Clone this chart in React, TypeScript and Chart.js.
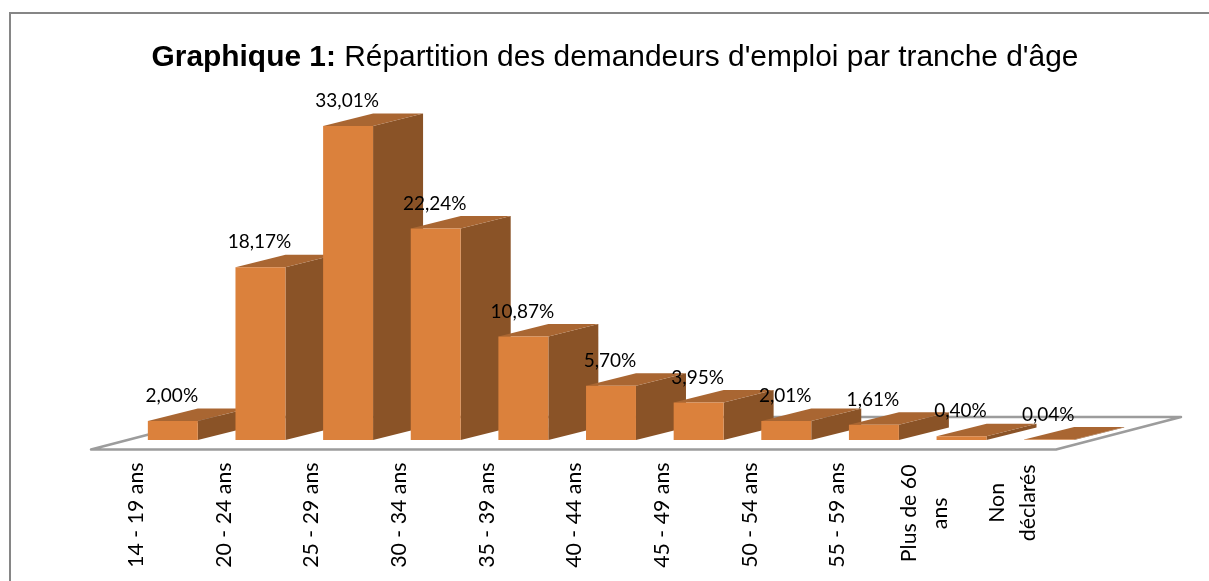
import React, { useEffect, useRef } from "react";
import { Chart, registerables } from "chart.js";

Chart.register(...registerables);

const categories: (string | string[])[] = [
  "14 - 19 ans", "20 - 24 ans", "25 - 29 ans", "30 - 34 ans", "35 - 39 ans", "40 - 44 ans",
  "45 - 49 ans", "50 - 54 ans", "55 - 59 ans", ["Plus de 60", "ans"], ["Non", "déclarés"],
];
const shares = [2.0, 18.17, 33.01, 22.24, 10.87, 5.7, 3.95, 2.01, 1.61, 0.4, 0.04];

const FRONT = "#DB813C";
const SIDE = "#8A5327";
const TOP = "#A96632";
const DX = 50;
const DY = -12.5;
const TICK_SIZE = 21.3;
const TICK_LINE = 1.45;
const TICK_FONT = TICK_SIZE + "px Lato";
const LABEL_FONT = "19px Lato";

const poly = (ctx: CanvasRenderingContext2D, pts: number[][], fill: string) => {
  ctx.beginPath();
  pts.forEach(([x, y], i) => (i ? ctx.lineTo(x, y) : ctx.moveTo(x, y)));
  ctx.closePath();
  ctx.fillStyle = fill;
  ctx.fill();
};

const floorAndDepth = {
  id: "floorAndDepth",
  beforeDraw(chart: any) {
    // centre the lines of the rotated tick labels on one another and on their tick
    const scale = chart.scales.x;
    const ctx = chart.ctx;
    const items = scale.getLabelItems(chart.chartArea);
    ctx.save();
    ctx.font = TICK_FONT;
    items.forEach((it: any) => {
      if (it.__centred) return;
      const lines = Array.isArray(it.label) ? it.label : [it.label];
      const w = Math.max(...lines.map((l: string) => ctx.measureText(l).width));
      const shift = ((lines.length - 1) * TICK_SIZE * TICK_LINE) / 2;
      it.options.textAlign = "center";
      it.options.translation = [
        it.options.translation[0] - shift,
        it.options.translation[1] + w / 2 + (lines.length > 1 ? 2 : 0),
      ];
      it.__centred = true;
    });
    ctx.restore();
  },
  beforeDatasetsDraw(chart: any) {
    const ctx = chart.ctx;
    const base = chart.scales.y.getPixelForValue(0);
    ctx.save();
    ctx.strokeStyle = "#9C9C9C";
    ctx.lineWidth = 2.5;
    ctx.lineJoin = "round";
    ctx.beginPath();
    ctx.moveTo(216, base - 23);
    ctx.lineTo(1181, base - 23);
    ctx.lineTo(1056, base + 9.5);
    ctx.lineTo(91, base + 9.5);
    ctx.closePath();
    ctx.stroke();
    chart.getDatasetMeta(0).data.forEach((bar: any) => {
      const { x, y, base: b, width } = bar.getProps(["x", "y", "base", "width"], true);
      const l = x - width / 2;
      const r = x + width / 2;
      poly(ctx, [[r, y], [r + DX, y + DY], [r + DX, b + DY], [r, b]], SIDE);
      poly(ctx, [[l, y], [l + DX, y + DY], [r + DX, y + DY], [r, y]], TOP);
    });
    ctx.restore();
  },
  afterDatasetsDraw(chart: any) {
    const ctx = chart.ctx;
    ctx.save();
    ctx.font = LABEL_FONT;
    ctx.fillStyle = "#000";
    ctx.textAlign = "center";
    ctx.textBaseline = "middle";
    chart.getDatasetMeta(0).data.forEach((bar: any, i: number) => {
      const { x, y } = bar.getProps(["x", "y"], true);
      ctx.fillText(shares[i].toFixed(2).replace(".", ",") + "%", x - 1, y - 25);
    });
    ctx.restore();
  },
};

export default function App() {
  const ref = useRef<HTMLCanvasElement>(null);
  useEffect(() => {
    const chart = new Chart(ref.current!, {
      type: "bar",
      data: {
        labels: categories as any,
        datasets: [{
          data: shares,
          backgroundColor: FRONT,
          borderWidth: 0,
          categoryPercentage: 1,
          barPercentage: 0.57,
        }],
      },
      options: {
        animation: false,
        responsive: false,
        layout: { padding: { left: 129, right: 116, top: 107, bottom: 0 } },
        plugins: { legend: { display: false }, tooltip: { enabled: false }, title: { display: false } },
        scales: {
          y: { display: false, min: 0, max: 35 },
          x: {
            afterFit: (s: any) => { s.height = 141; },
            grid: { display: false, drawTicks: false },
            border: { display: false },
            ticks: {
              autoSkip: false,
              minRotation: 90,
              maxRotation: 90,
              padding: 22.5,
              labelOffset: -36.5,
              color: "#000",
              font: { family: "Lato", size: TICK_SIZE, lineHeight: TICK_LINE },
            },
          },
        },
      },
      plugins: [floorAndDepth],
    } as any);
    return () => chart.destroy();
  }, []);
  return (
    <div style={{ position: "absolute", left: 0, top: 0, width: 1209, height: 581, overflow: "hidden", background: "#fff" }}>
      <canvas ref={ref} width={1209} height={581} style={{ display: "block" }} />
      <div style={{ position: "absolute", left: 9, top: 12, width: 1300, height: 600, border: "2.5px solid #868686", boxSizing: "border-box" }} />
      <div style={{ position: "absolute", left: 0, width: 1230, top: 39, textAlign: "center", fontFamily: "'Liberation Sans'", fontSize: 29.9, lineHeight: "34px", color: "#000", whiteSpace: "nowrap" }}>
        <b>Graphique 1:</b> Répartition des demandeurs d'emploi par tranche d'âge
      </div>
    </div>
  );
}
